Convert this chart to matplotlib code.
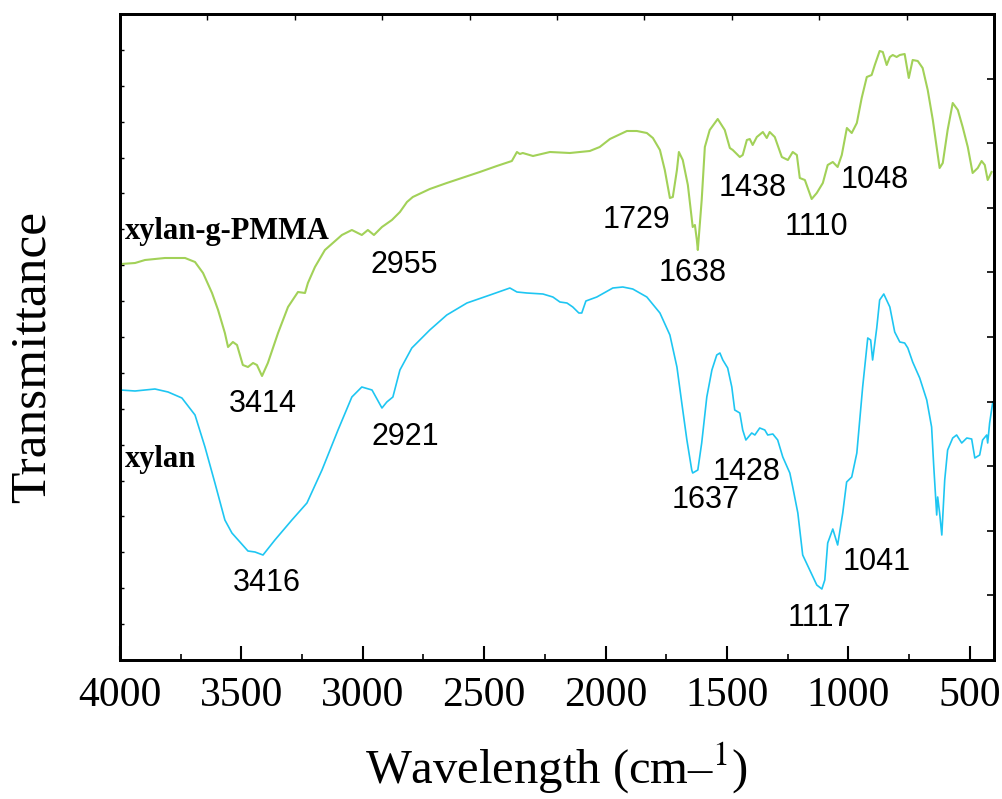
import numpy as np
import matplotlib
matplotlib.use("Agg")
import matplotlib.pyplot as plt

# ---------------- data (wavenumber cm-1, transmittance a.u.) ----------------
pmma_wn = [4000, 3996, 3938, 3897, 3815, 3732, 3691, 3658, 3621, 3596, 3568, 3555, 3535, 3518,
           3494, 3473, 3452, 3436, 3415, 3391, 3349, 3308, 3267, 3238, 3226, 3197, 3156, 3086,
           3045, 3004, 2979, 2954, 2921, 2880, 2847, 2818, 2794, 2724, 2654, 2518, 2448, 2386,
           2365, 2353, 2341, 2299, 2229, 2147, 2065, 2024, 1982, 1912, 1871, 1830, 1805, 1776,
           1756, 1735, 1723, 1706, 1698, 1682, 1661, 1641, 1632, 1624, 1620, 1604, 1591, 1571,
           1538, 1509, 1488, 1476, 1447, 1435, 1418, 1406, 1394, 1377, 1352, 1336, 1324, 1303,
           1274, 1249, 1229, 1212, 1200, 1179, 1151, 1130, 1105, 1085, 1064, 1044, 1027, 1006,
           986, 965, 945, 924, 904, 891, 871, 858, 842, 829, 817, 801, 788, 768, 751, 735, 714,
           694, 673, 652, 624, 611, 591, 570, 549, 529, 508, 488, 467, 451, 438, 426, 410]
pmma_t = [260, 396, 397, 400, 402, 402, 398, 387, 367, 350, 327, 313, 318, 315,
          295, 293, 297, 295, 284, 297, 327, 353, 368, 367, 377, 393, 410, 425,
          430, 425, 430, 425, 433, 440, 448, 458, 463, 471, 477, 488, 494, 499,
          508, 506, 507, 504, 508, 507, 509, 513, 521, 529, 529, 527, 522, 510,
          490, 462, 463, 490, 508, 500, 475, 433, 435, 420, 410, 460, 513, 530,
          541, 530, 512, 510, 503, 505, 520, 521, 515, 523, 528, 522, 528, 523,
          503, 500, 508, 505, 482, 480, 461, 467, 477, 495, 498, 493, 505, 532,
          527, 537, 562, 583, 585, 595, 609, 608, 595, 603, 605, 603, 605, 606, 582, 600, 599,
          592, 570, 540, 492, 497, 530, 557, 550, 533, 513, 487, 492, 499, 495, 480, 488]

xylan_wn = [4000, 3998, 3938, 3856, 3802, 3745, 3691, 3650, 3609, 3568, 3539, 3506, 3473, 3444,
            3411, 3362, 3292, 3230, 3168, 3102, 3045, 3004, 2962, 2921, 2901, 2876, 2847, 2798,
            2724, 2654, 2571, 2476, 2394, 2365, 2324, 2258, 2217, 2188, 2159, 2135, 2110, 2098,
            2081, 2036, 1970, 1929, 1888, 1830, 1776, 1735, 1706, 1686, 1665, 1645, 1641, 1620,
            1604, 1583, 1562, 1542, 1529, 1517, 1497, 1480, 1468, 1447, 1435, 1422, 1398, 1385,
            1365, 1344, 1332, 1311, 1291, 1270, 1241, 1229, 1208, 1188, 1159, 1130, 1109, 1097,
            1085, 1064, 1044, 1023, 1007, 986, 965, 953, 941, 920, 908, 900, 883, 871, 854, 829,
            809, 788, 768, 755, 735, 706, 677, 657, 648, 636, 632, 624, 615, 603, 591, 570, 554,
            533, 512, 492, 479, 459, 447, 430, 426, 418, 405]
xylan_t = [35, 270, 269, 271, 268, 262, 245, 213, 177, 140, 127, 118, 109, 108,
           105, 120, 140, 157, 190, 230, 263, 273, 270, 252, 258, 263, 290, 312,
           330, 345, 357, 365, 372, 368, 367, 366, 363, 358, 357, 353, 347, 347,
           359, 363, 372, 373, 371, 363, 347, 325, 293, 257, 220, 190, 187, 190,
           217, 263, 290, 305, 307, 300, 292, 273, 250, 247, 230, 220, 227, 225,
           232, 230, 225, 226, 220, 203, 187, 173, 147, 105, 90, 75, 71, 80,
           117, 131, 115, 147, 178, 183, 207, 240, 273, 322, 320, 300, 332, 360, 366, 353,
           328, 318, 317, 312, 298, 282, 260, 233, 193, 145, 163, 147, 125, 180, 210, 222, 225,
           217, 222, 221, 202, 205, 220, 225, 217, 237, 258]

series_names = ["xylan-g-PMMA", "xylan"]
peak_labels = ["2955", "3414", "1729", "1638", "1438", "1110", "1048",
               "3416", "2921", "1637", "1428", "1117", "1041"]
x_ticks = [4000, 3500, 3000, 2500, 2000, 1500, 1000, 500]

# ---------------- layout ----------------
peak_pos = [(2831, 395), (3411, 256), (1871, 440), (1641, 387), (1394, 472), (1130, 433),
            (891, 480), (3395, 77), (2826, 223), (1587, 160), (1418, 188), (1118, 42), (883, 98)]
name_pos = [(3979, 428), (3979, 200)]

GREEN = "#a2d158"
BLUE = "#1ec6f2"

plt.rcParams["mathtext.fontset"] = "stix"

fig = plt.figure(figsize=(10.03, 7.99), dpi=100)
ax = fig.add_axes([120 / 1003, 1 - 660 / 799, 874 / 1003, 646 / 799])

ax.plot(pmma_wn, pmma_t, color=GREEN, lw=1.5, zorder=3)
ax.plot(xylan_wn, xylan_t, color=BLUE, lw=1.2, zorder=4)

ax.set_xlim(4000, 400)
ax.set_ylim(0, 646)

serif = "Liberation Serif"
ax.set_xticks(x_ticks)
ax.set_xticklabels([str(v) for v in x_ticks], fontfamily=serif, fontsize=30)
ax.set_xticks(np.arange(3750, 500, -500), minor=True)
ax.tick_params(axis="x", which="major", direction="in", length=10, width=1.5, pad=12)
ax.tick_params(axis="x", which="minor", direction="in", length=4, width=1.2)
ax.set_yticks(np.linspace(0, 646, 19))
ax.set_yticklabels([])
ax.tick_params(axis="y", which="major", direction="in", length=3, width=1.0)

for s in ax.spines.values():
    s.set_linewidth(1.9)

# top ticks
axt = ax.twiny()
axt.set_xlim(0, 10)
axt.set_xticks(range(1, 10))
axt.set_xticklabels([])
axt.tick_params(axis="x", direction="in", length=4, width=1.0)
# right ticks
axr = ax.twinx()
axr.set_ylim(0, 10)
axr.set_yticks(range(1, 10))
axr.set_yticklabels([])
axr.tick_params(axis="y", direction="in", length=5, width=1.2)
for a in (axt, axr):
    for s in a.spines.values():
        s.set_linewidth(1.9)

ax.set_xlabel("Wavelength (cm\u2013$^{1}$)", fontfamily=serif, fontsize=35)
ax.xaxis.set_label_coords(0.5, -0.125)
ax.set_ylabel("Transmittance", fontfamily=serif, fontsize=37, va="center")
ax.yaxis.set_label_coords(-0.1, 0.469)

for txt, (x, y) in zip(peak_labels, peak_pos):
    ax.text(x, y, txt, fontfamily="Liberation Sans", fontsize=22, ha="center", va="center", zorder=5)

for txt, (x, y) in zip(series_names, name_pos):
    ax.text(x, y, txt, fontfamily=serif, fontweight="bold", fontsize=22, ha="left", va="center", zorder=5)

fig.savefig("out.png", dpi=100)
